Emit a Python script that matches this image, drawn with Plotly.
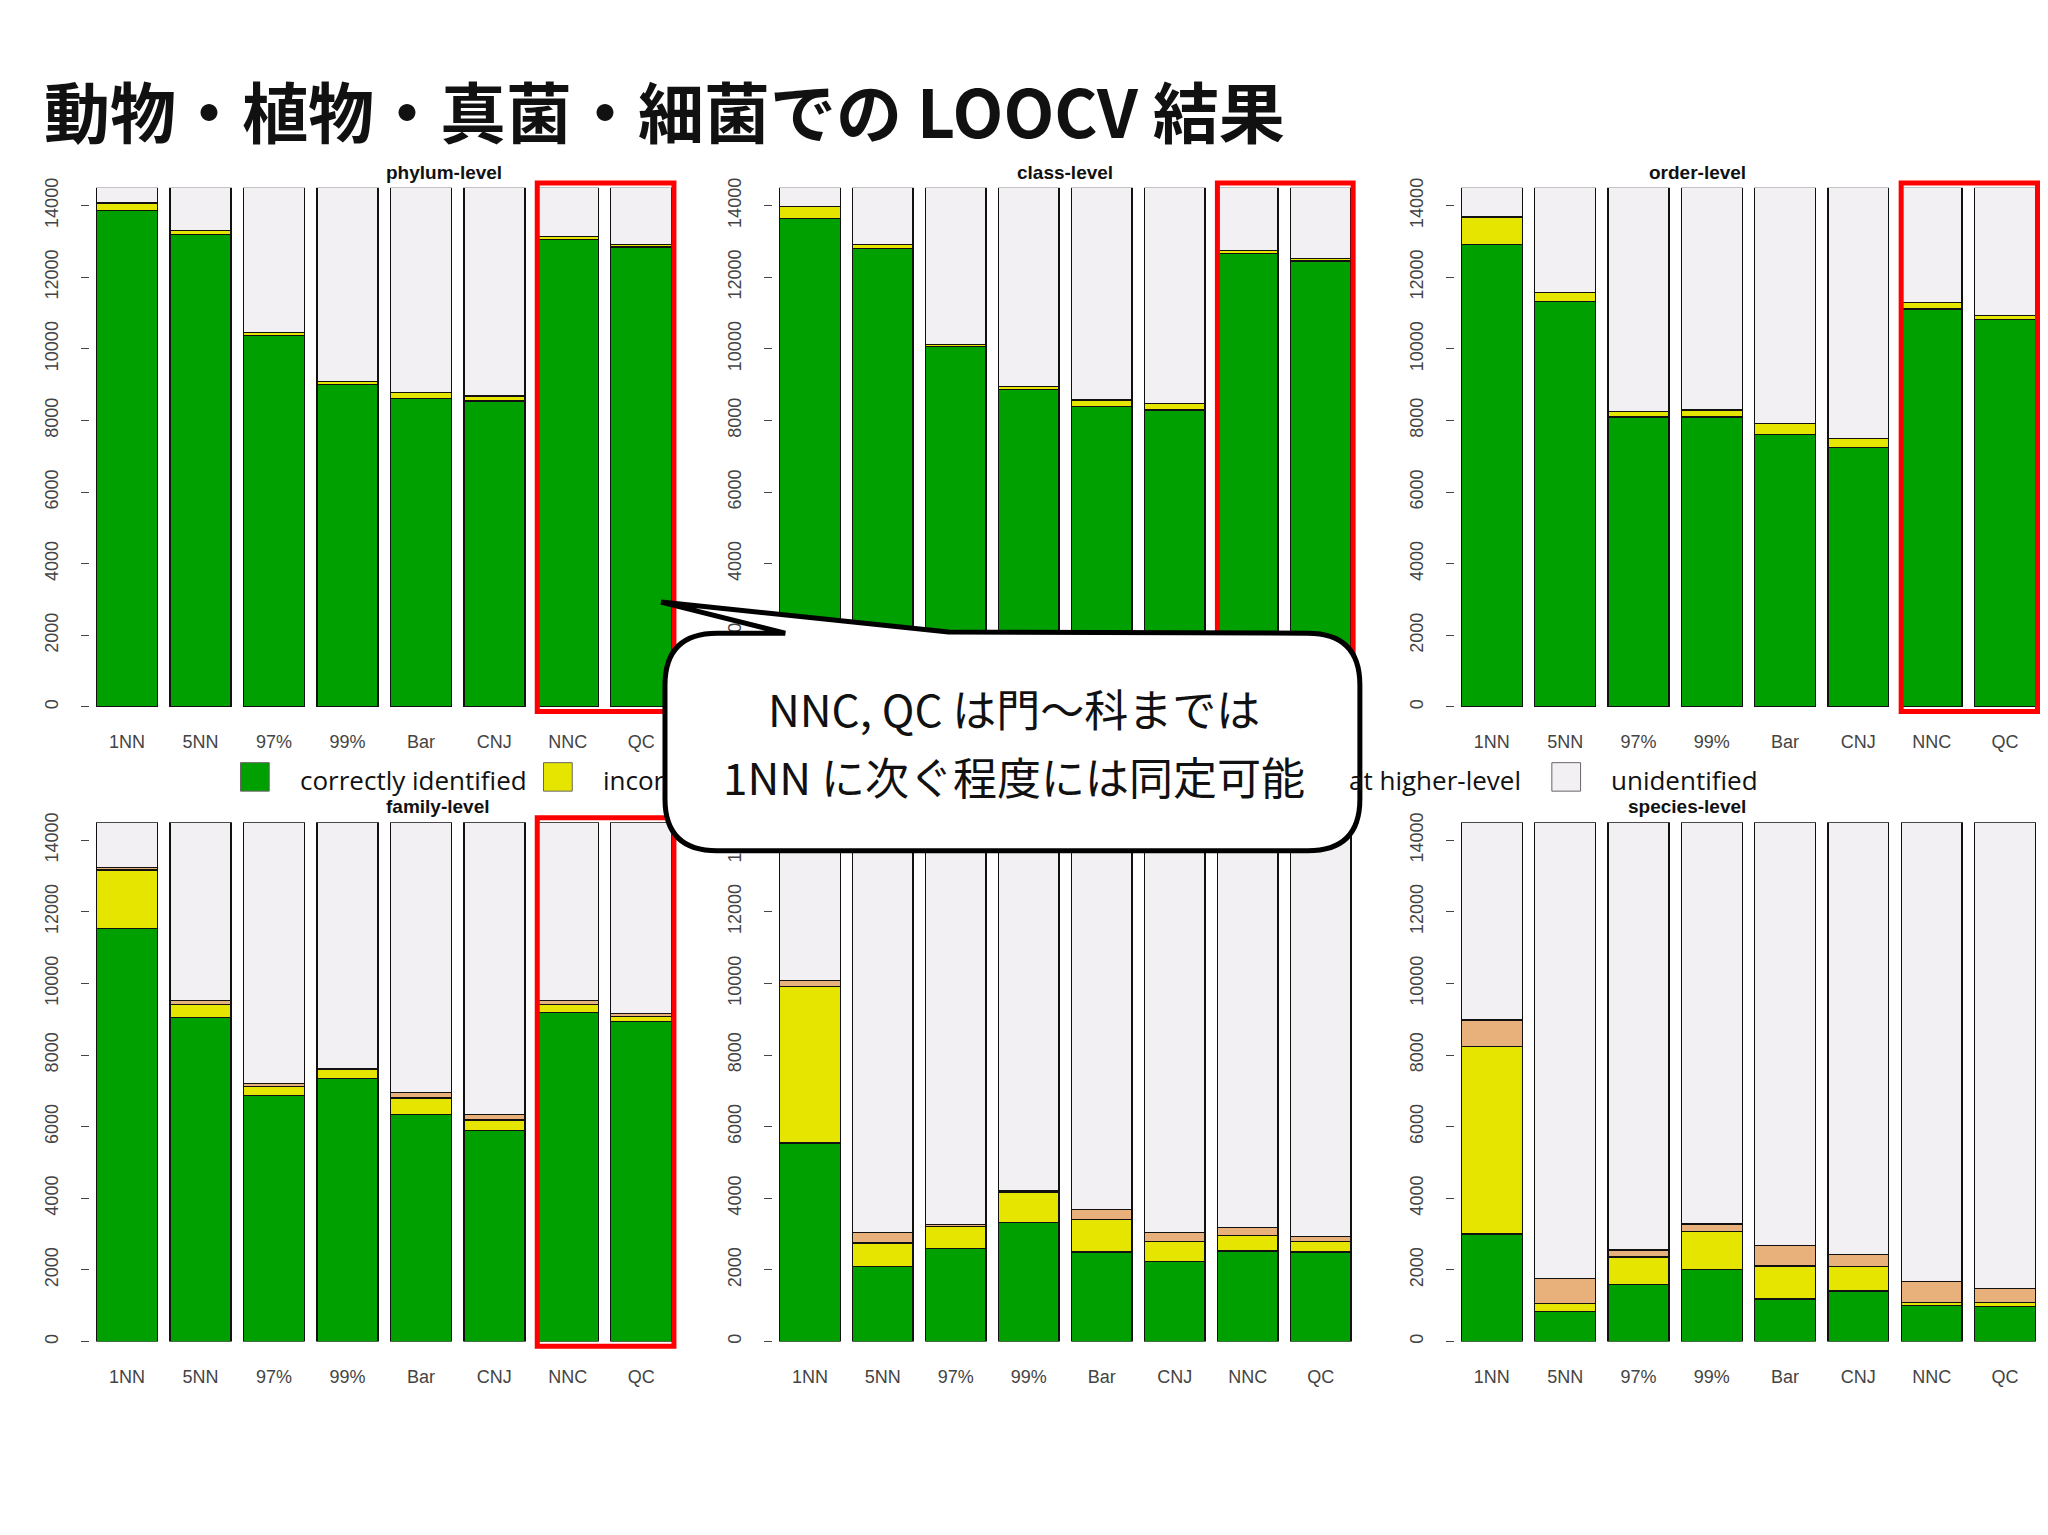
import plotly.graph_objects as go
from plotly.subplots import make_subplots

W, H = 2048, 1535
methods = ["1NN", "5NN", "97%", "99%", "Bar", "CNJ", "NNC", "QC"]
total = 14500
levels = ["phylum-level", "class-level", "order-level", "family-level", "genus-level", "species-level"]

correct = {
    "phylum-level": [13860, 13200, 10380, 9010, 8610, 8540, 13060, 12840],
    "class-level": [13640, 12810, 10060, 8860, 8390, 8290, 12660, 12450],
    "order-level": [12920, 11320, 8100, 8100, 7600, 7240, 11110, 10820],
    "family-level": [11540, 9040, 6870, 7340, 6330, 5900, 9190, 8940],
    "genus-level": [5540, 2100, 2600, 3330, 2500, 2240, 2530, 2500],
    "species-level": [3005, 840, 1585, 2010, 1190, 1410, 1016, 984],
}
incorrect = {
    "phylum-level": [210, 110, 70, 70, 180, 140, 70, 80],
    "class-level": [330, 110, 70, 80, 180, 180, 80, 70],
    "order-level": [760, 260, 150, 190, 320, 250, 180, 110],
    "family-level": [1630, 370, 260, 260, 470, 290, 220, 140],
    "genus-level": [4370, 650, 620, 830, 900, 550, 440, 290],
    "species-level": [5235, 220, 775, 1060, 920, 680, 84, 116],
}
higher = {
    "phylum-level": [0, 0, 0, 0, 0, 0, 0, 0],
    "class-level": [0, 0, 0, 0, 0, 0, 0, 0],
    "order-level": [0, 0, 0, 0, 0, 0, 0, 0],
    "family-level": [70, 110, 70, 30, 150, 140, 110, 70],
    "genus-level": [180, 290, 40, 40, 290, 250, 210, 140],
    "species-level": [740, 700, 200, 210, 570, 340, 570, 375],
}
highlight = ["phylum-level", "class-level", "order-level", "family-level"]

colors = ["#00A000", "#E5E500", "#E8B07A", "#F2F0F2"]


def px(x, y):
    # reference display coords (1568x1176) -> paper
    return x / 1568, 1 - y / 1176


fig = make_subplots(rows=2, cols=3)
for i, lv in enumerate(levels):
    r, c = i // 3 + 1, i % 3 + 1
    unid = [total - a - b - d for a, b, d in zip(correct[lv], incorrect[lv], higher[lv])]
    for vals, col in zip([correct[lv], incorrect[lv], higher[lv], unid], colors):
        fig.add_trace(go.Bar(x=methods, y=vals, marker=dict(color=col, line=dict(color="#111", width=1.3)),
                             showlegend=False, hoverinfo="y"), row=r, col=c)

xdom = [(63, 513), (586, 1033), (1108, 1557)]
ydom = [(532, 131), (1022, 621)]
for i, lv in enumerate(levels):
    r, c = i // 3, i % 3
    n = i + 1
    x0, _ = px(xdom[c][0], 0)
    x1, _ = px(xdom[c][1], 0)
    _, y0 = px(0, ydom[r][0])
    _, y1 = px(0, ydom[r][1])
    fig.layout[f"xaxis{n if n > 1 else ''}"].update(domain=[x0, x1], range=[-0.5, 7.5], showline=False,
                                                     tickfont=dict(size=18, color="#444", family="Liberation Sans"),
                                                     ticklabelstandoff=22)
    fig.layout[f"yaxis{n if n > 1 else ''}"].update(domain=[y0, y1], range=[0, total], showgrid=False,
                                                     zeroline=False, tickvals=list(range(0, 14001, 2000)),
                                                     tickformat="d",
                                                     tickangle=-90, ticks="outside", ticklen=8,
                                                     tickfont=dict(size=18, color="#444", family="Liberation Sans"),
                                                     ticklabelstandoff=16)
    if lv != "genus-level":
        tx, ty = (x0 + x1) / 2, y1 + 0.002
        fig.add_annotation(xref="paper", yref="paper", x=tx, y=ty, yanchor="bottom", showarrow=False,
                           text=f"<b>{lv}</b>", font=dict(size=19, color="#111", family="Liberation Sans"))
    if lv in highlight:
        # red box around the NNC and QC bars, in paper coords from the axis domain
        slot = (x1 - x0) / 8
        fig.add_shape(type="rect", xref="paper", yref="paper",
                      x0=x0 + 6 * slot + 0.003, x1=x1 - 0.002,
                      y0=y0 - 0.003, y1=y1 + 0.003,
                      line=dict(color="#F00", width=5), fillcolor="rgba(0,0,0,0)")

# legend (manual, partially hidden by callout)
leg = [(178, "correctly identified", colors[0]), (410, "incor", colors[1]),
       (None, "at higher-level", colors[2]), (1182, "unidentified", colors[3])]
for xpos, txt, col in leg:
    if xpos is None:
        fig.add_annotation(xref="paper", yref="paper", x=px(1160, 0)[0], y=px(0, 588)[1], xanchor="right",
                           showarrow=False, text=txt, font=dict(size=26, color="#111", family="Open Sans"))
        continue
    a0, b0 = px(xpos, 575)
    a1, b1 = px(xpos + 22, 597)
    fig.add_shape(type="rect", xref="paper", yref="paper", x0=a0, x1=a1, y0=b1, y1=b0,
                  fillcolor=col, line=dict(color="#666", width=1))
    fig.add_annotation(xref="paper", yref="paper", x=px(xpos + 44, 0)[0], y=px(0, 588)[1], xanchor="left",
                       showarrow=False, text=txt, font=dict(size=26, color="#111", family="Open Sans"))

# callout
pts = [("M", 543, 475), ("L", 595, 475), ("L", 500, 451), ("L", 720, 474), ("L", 995, 475),
       ("Q", 1035, 475, 1035, 515), ("L", 1035, 603), ("Q", 1035, 643, 995, 643), ("L", 543, 643),
       ("Q", 503, 643, 503, 603), ("L", 503, 515), ("Q", 503, 475, 543, 475)]
path = ""
for p in pts:
    coords = []
    for k in range(1, len(p), 2):
        a, b = px(p[k], p[k + 1])
        coords.append(f"{a:.4f},{b:.4f}")
    path += p[0] + " " + " ".join(coords) + " "
path += "Z"
fig.add_shape(type="path", xref="paper", yref="paper", path=path, fillcolor="white",
              line=dict(color="black", width=5))
for ty, txt in [(533, "NNC, QC は門～科までは"), (585, "1NN に次ぐ程度には同定可能")]:
    fig.add_annotation(xref="paper", yref="paper", x=px(770, 0)[0], y=px(0, ty)[1], showarrow=False,
                       text=txt, font=dict(size=44, color="#111", family="Noto Sans CJK JP"))

fig.add_annotation(xref="paper", yref="paper", x=px(26, 0)[0], y=px(0, 70)[1], xanchor="left",
                   yanchor="middle", showarrow=False, text="<b>動物・植物・真菌・細菌での LOOCV 結果</b>",
                   font=dict(size=66, color="#111", family="Noto Sans CJK JP"))

fig.update_layout(width=W, height=H, barmode="stack", bargap=0.17, plot_bgcolor="white",
                  paper_bgcolor="white", margin=dict(l=0, r=0, t=0, b=0))
fig.write_html("out.html")
